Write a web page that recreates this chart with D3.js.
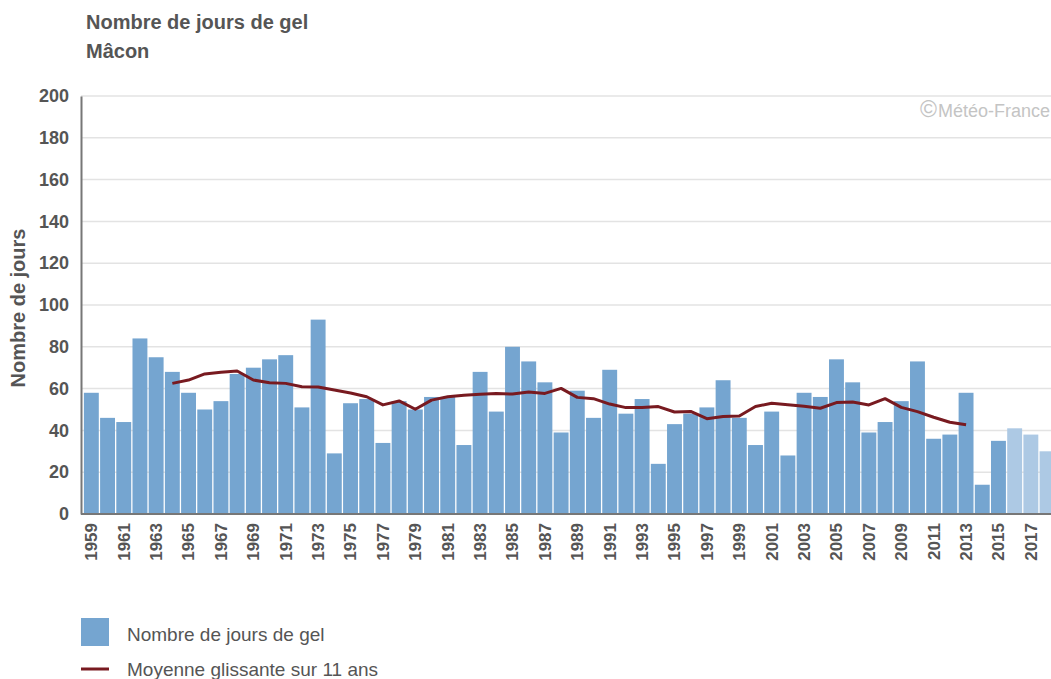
<!DOCTYPE html>
<html>
<head>
<meta charset="utf-8">
<script src="https://cdn.jsdelivr.net/npm/d3@7"></script>
<style>
  body { margin: 0; background: #fff; }
  svg { font-family: "Liberation Sans", Arial, sans-serif; display: block; }
</style>
</head>
<body>
<script>
// data
const years = d3.range(1959, 2019);
const frostDays = [58, 46, 44, 84, 75, 68, 58, 50, 54, 67,
                   70, 74, 76, 51, 93, 29, 53, 55, 34, 54,
                   50, 56, 56, 33, 68, 49, 80, 73, 63, 39,
                   59, 46, 69, 48, 55, 24, 43, 48, 51, 64,
                   46, 33, 49, 28, 58, 56, 74, 63, 39, 44,
                   54, 73, 36, 38, 58, 14, 35, 41, 38, 30];
const provisional = [2016, 2017, 2018];
const avgYears = d3.range(1964, 2014);
const movingAvg = [62.5, 64.1, 67.0, 67.8, 68.4, 64.1, 62.8, 62.5, 60.9, 60.8,
                   59.3, 57.9, 56.1, 52.2, 54.1, 50.1, 54.5, 56.1, 56.8, 57.3,
                   57.6, 57.4, 58.4, 57.7, 60.1, 55.8, 55.2, 52.6, 50.9, 50.9,
                   51.4, 48.8, 49.1, 45.6, 46.7, 46.9, 51.4, 53.0, 52.3, 51.5,
                   50.6, 53.3, 53.6, 52.2, 55.2, 51.0, 49.0, 46.3, 43.9, 42.7];
const yTicks = [0, 20, 40, 60, 80, 100, 120, 140, 160, 180, 200];

const canvWidth = 1051, canvHeight = 679;
const svg = d3.select("body").append("svg")
    .attr("width", canvWidth)
    .attr("height", canvHeight);

const textCol = "#555";

// titles
svg.append("text").attr("x", 86).attr("y", 29)
    .attr("font-size", "20px").attr("font-weight", "bold").attr("fill", textCol)
    .text("Nombre de jours de gel");
svg.append("text").attr("x", 86).attr("y", 58)
    .attr("font-size", "20px").attr("font-weight", "bold").attr("fill", textCol)
    .text("Mâcon");

// scales
const x = d3.scaleBand()
    .domain(years)
    .range([82.6, 82.6 + 16.22 * years.length])
    .padding(0.08);

const y = d3.scaleLinear()
    .domain([0, 200])
    .range([514, 96]);

// gridlines
svg.append("g")
    .selectAll("line")
    .data(yTicks.slice(1))
    .join("line")
    .attr("x1", 81).attr("x2", canvWidth)
    .attr("y1", d => y(d)).attr("y2", d => y(d))
    .attr("stroke", "#e3e3e3").attr("stroke-width", 1.5);

// watermark
const wm = svg.append("text")
    .attr("x", 1050).attr("y", 117)
    .attr("text-anchor", "end")
    .attr("font-size", "18px").attr("fill", "#c4c4c4");
wm.append("tspan").attr("font-size", "23px").attr("font-weight", "300").text("\u00a9");
wm.append("tspan").attr("dx", 1).text("Météo-France");

// bars
svg.append("g")
    .selectAll("rect")
    .data(years)
    .join("rect")
    .attr("x", d => x(d))
    .attr("width", x.bandwidth())
    .attr("y", (d, i) => y(frostDays[i]))
    .attr("height", (d, i) => y(0) - y(frostDays[i]))
    .attr("fill", d => provisional.includes(d) ? "#adc9e4" : "#75a5d0");

// moving average
const line = d3.line()
    .x((d, i) => x(avgYears[i]) + x.bandwidth() / 2)
    .y(d => y(d))
    .curve(d3.curveLinear);

svg.append("path")
    .datum(movingAvg)
    .attr("d", line)
    .attr("fill", "none")
    .attr("stroke", "#781a20")
    .attr("stroke-width", 3)
    .attr("stroke-linejoin", "round");

// y axis
const yAxis = svg.append("g")
    .attr("transform", "translate(81,0)")
    .call(d3.axisLeft(y).tickValues(yTicks).tickSize(0).tickPadding(12));
yAxis.select(".domain").attr("stroke", "#777").attr("stroke-width", 2);
yAxis.selectAll("text")
    .attr("font-size", "18px").attr("font-weight", "bold").attr("fill", textCol)
    .attr("font-family", "Liberation Sans, Arial, sans-serif");

// x axis
const xAxis = svg.append("g")
    .attr("transform", "translate(0,514)")
    .call(d3.axisBottom(x).tickValues(years.filter(d => (d - 1959) % 2 === 0)).tickSize(0));
xAxis.select(".domain").attr("d", "M81,0H" + canvWidth).attr("stroke", "#777").attr("stroke-width", 2);
xAxis.selectAll("text")
    .attr("font-size", "17px").attr("font-weight", "bold").attr("fill", textCol)
    .attr("font-family", "Liberation Sans, Arial, sans-serif")
    .attr("transform", "rotate(-90)")
    .attr("text-anchor", "end")
    .attr("x", -9).attr("y", 0).attr("dy", "0.35em");

// y axis title
svg.append("text")
    .attr("transform", "translate(25,308) rotate(-90)")
    .attr("text-anchor", "middle")
    .attr("font-size", "20px").attr("font-weight", "bold").attr("fill", textCol)
    .text("Nombre de jours");

// legend
const legend = svg.append("g");
legend.append("rect")
    .attr("x", 81).attr("y", 618).attr("width", 28).attr("height", 28)
    .attr("fill", "#75a5d0");
legend.append("text")
    .attr("x", 127).attr("y", 641)
    .attr("font-size", "19px").attr("fill", textCol)
    .text("Nombre de jours de gel");
legend.append("line")
    .attr("x1", 81).attr("x2", 109).attr("y1", 669).attr("y2", 669)
    .attr("stroke", "#781a20").attr("stroke-width", 3);
legend.append("text")
    .attr("x", 127).attr("y", 676)
    .attr("font-size", "19px").attr("fill", textCol)
    .text("Moyenne glissante sur 11 ans");
</script>
</body>
</html>
